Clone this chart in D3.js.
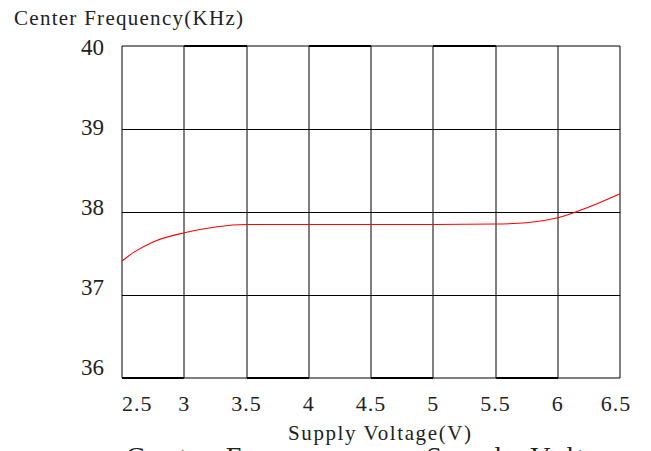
<!DOCTYPE html>
<html>
<head>
<meta charset="utf-8">
<script src="https://cdn.jsdelivr.net/npm/d3@7"></script>
<style>
  html, body { margin: 0; padding: 0; background: #fff; overflow: hidden; }
  svg { display: block; }
  text { font-family: "Liberation Serif", "DejaVu Serif", serif; fill: #222; }
</style>
</head>
<body>
<div id="chart"></div>
<script>
// supply voltage (V) and center frequency (kHz)
const voltage = [2.5, 2.6, 2.75, 3.0, 3.25, 3.5, 4.0, 4.5, 5.0, 5.5, 5.75, 6.0, 6.25, 6.5];
const freq = [37.41, 37.52, 37.64, 37.75, 37.82, 37.85, 37.85, 37.85, 37.85, 37.855, 37.87, 37.93, 38.06, 38.22];

const xTicks = [2.5, 3, 3.5, 4, 4.5, 5, 5.5, 6, 6.5];
const xTickLabels = ["2.5", "3", "3.5", "4", "4.5", "5", "5.5", "6", "6.5"];
const yTicks = [36, 37, 38, 39, 40];

const W = 651, H = 451;
const margin = { top: 46, right: 31, bottom: 73, left: 122 };

const svg = d3.select("#chart")
  .html("")
  .append("svg")
  .attr("width", W)
  .attr("height", H);

const x = d3.scaleLinear()
  .domain([2.5, 6.5])
  .range([margin.left, W - margin.right]);

const y = d3.scaleLinear()
  .domain([36, 40])
  .range([H - margin.bottom, margin.top]);

// tick labels sit on a slightly tighter ladder than the grid
const yLabel = y.copy().range([366.5, 47]);

// horizontal grid lines (crisp)
svg.append("g")
  .selectAll("line")
  .data(yTicks.slice(1, -1))
  .join("line")
  .attr("x1", x(2.5)).attr("x2", x(6.5))
  .attr("y1", d => Math.round(y(d)) + 0.5)
  .attr("y2", d => Math.round(y(d)) + 0.5)
  .attr("stroke", "#000")
  .attr("stroke-width", 1);

// vertical grid lines (soft grey like the scan)
svg.append("g")
  .selectAll("line")
  .data(xTicks)
  .join("line")
  .attr("x1", d => Math.round(x(d))).attr("x2", d => Math.round(x(d)))
  .attr("y1", y(40)).attr("y2", y(36))
  .attr("stroke", "#000")
  .attr("stroke-width", 1);

// top and bottom borders, alternating heavy segments
const topHeavy = [0, 1, 0, 1, 0, 1, 0, 0];
const bottomHeavy = [1, 0, 1, 0, 1, 0, 1, 0];
const segs = d3.pairs(xTicks);

svg.append("g")
  .selectAll("line")
  .data(segs)
  .join("line")
  .attr("x1", d => Math.round(x(d[0]))).attr("x2", d => Math.round(x(d[1])))
  .attr("y1", y(40)).attr("y2", y(40))
  .attr("stroke", "#000")
  .attr("stroke-width", (d, i) => topHeavy[i] ? 2 : 1);

svg.append("g")
  .selectAll("line")
  .data(segs)
  .join("line")
  .attr("x1", d => Math.round(x(d[0]))).attr("x2", d => Math.round(x(d[1])))
  .attr("y1", y(36)).attr("y2", y(36))
  .attr("stroke", "#000")
  .attr("stroke-width", (d, i) => bottomHeavy[i] ? 2 : 1);

// the curve
const line = d3.line()
  .x((d, i) => x(voltage[i]))
  .y(d => y(d))
  .curve(d3.curveMonotoneX);

svg.append("path")
  .datum(freq)
  .attr("fill", "none")
  .attr("stroke", "#ff0000")
  .attr("stroke-width", 1.1)
  .attr("d", line);

// y tick labels
svg.append("g")
  .selectAll("text")
  .data(yTicks)
  .join("text")
  .attr("x", 104)
  .attr("y", d => yLabel(d))
  .attr("dy", "0.35em")
  .attr("text-anchor", "end")
  .style("font-size", "23px")
  .text(d => d);

// x tick labels
svg.append("g")
  .selectAll("text")
  .data(xTicks)
  .join("text")
  .attr("x", (d, i) => i === xTicks.length - 1 ? x(d) - 4 : x(d))
  .attr("y", 411)
  .attr("text-anchor", (d, i) => i === 0 ? "start" : "middle")
  .style("font-size", "22px")
  .style("letter-spacing", "1px")
  .text((d, i) => xTickLabels[i]);

// axis titles
svg.append("text")
  .attr("x", 14)
  .attr("y", 25)
  .attr("textLength", 229)
  .attr("lengthAdjust", "spacing")
  .style("font-size", "21px")
  .text("Center Frequency(KHz)");

svg.append("text")
  .attr("x", 288)
  .attr("y", 440)
  .attr("textLength", 183)
  .attr("lengthAdjust", "spacing")
  .style("font-size", "21px")
  .text("Supply Voltage(V)");

// caption, mostly cut off by the bottom edge
svg.append("text")
  .attr("x", 126)
  .attr("y", 466)
  .attr("textLength", 505)
  .attr("lengthAdjust", "spacing")
  .style("font-size", "28px")
  .text("Center Frequency vs. Supply Voltage");
</script>
</body>
</html>
